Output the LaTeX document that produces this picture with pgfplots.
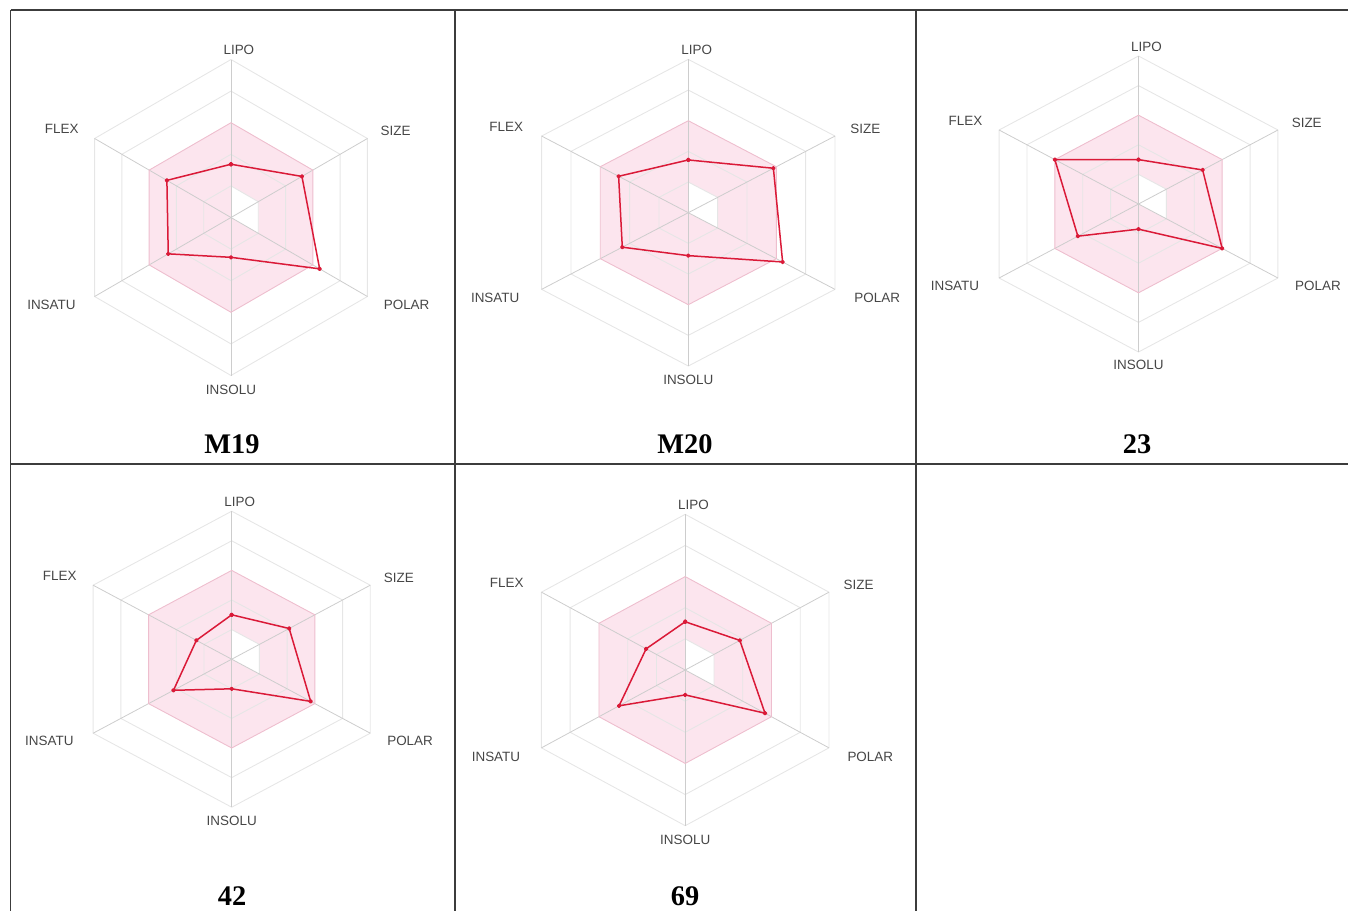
\documentclass[border=0pt]{standalone}
\usepackage{pgfplots}
\usepackage{pgfplotstable}
\usepackage{fontspec}
\pgfplotsset{compat=1.18}
\setmainfont{Liberation Serif}
\newfontfamily\labfont{Liberation Sans}
\definecolor{pinkfill}{RGB}{252,229,238}
\definecolor{pinkedge}{RGB}{238,190,206}
\definecolor{ringgray}{RGB}{230,230,230}
\definecolor{spokegray}{RGB}{205,205,205}
\definecolor{radarred}{RGB}{218,26,56}
\definecolor{labgray}{RGB}{70,70,70}
\definecolor{tablegray}{RGB}{60,60,60}

% radius (fraction of outer hexagon) for each axis, angle in degrees
\pgfplotstableread{
angle M19 M20 C23 C42 C69
90 0.337 0.344 0.30 0.30 0.31
30 0.52 0.58 0.46 0.415 0.38
-30 0.65 0.643 0.60 0.57 0.555
-90 0.252 0.28 0.17 0.20 0.16
-150 0.46 0.45 0.435 0.42 0.46
150 0.47 0.475 0.60 0.255 0.272
90 0.337 0.344 0.30 0.30 0.31
}\radardata

\pgfplotsset{
  radar/.style={
    scale only axis, axis lines=none, clip=false,
    xmin=-1.3,xmax=1.3,ymin=-1.3,ymax=1.3,
    anchor=origin,
  },
}
\tikzset{lab/.style={font=\labfont\fontsize{13.5}{15}\selectfont, text=labgray, inner sep=0pt}}

% #1 cx, #2 cy, #3 width, #4 height, #5 column, #6 title, #7 title x, #8 title baseline y
\newcommand{\radar}[8]{%
\begin{axis}[radar, at={(#1bp,-#2bp)}, width=#3bp, height=#4bp]
 \addplot[draw=none, fill=pinkfill, data cs=polar] coordinates {(90,0.6) (30,0.6) (-30,0.6) (-90,0.6) (-150,0.6) (150,0.6) (90,0.6)};
 \addplot[draw=none, fill=white, data cs=polar] coordinates {(90,0.2) (30,0.2) (-30,0.2) (0,0) (90,0.2)};
 \pgfplotsinvokeforeach{0.2,0.4,0.8,1.0}{
   \addplot[ringgray, line width=0.9bp, data cs=polar] coordinates {(90,##1) (30,##1) (-30,##1) (-90,##1) (-150,##1) (150,##1) (90,##1)};
 }
 \pgfplotsinvokeforeach{90,30,-30,-90,-150,150}{
   \addplot[spokegray, line width=0.8bp, data cs=polar] coordinates {(##1,0) (##1,1)};
 }
 \addplot[pinkedge, line width=0.9bp, data cs=polar] coordinates {(90,0.6) (30,0.6) (-30,0.6) (-90,0.6) (-150,0.6) (150,0.6) (90,0.6)};
 \addplot[radarred, line width=1.5bp, line join=round, mark=*, mark size=1.5bp,
   mark options={fill=radarred, draw=radarred}, data cs=polar] table[x=angle, y=#5] {\radardata};
 \node[lab] at (axis cs:0.05,1.06) {LIPO};
 \node[lab] at (axis cs:1.045,0.55) {SIZE};
 \node[lab] at (axis cs:1.115,-0.555) {POLAR};
 \node[lab] at (axis cs:0,-1.09) {INSOLU};
 \node[lab] at (axis cs:-1.14,-0.555) {INSATU};
 \node[lab] at (axis cs:-1.075,0.56) {FLEX};
\end{axis}
\node[font=\fontsize{28.5}{30}\selectfont\bfseries, anchor=base, inner sep=0pt] at (#7bp,-#8bp) {#6};
}

\begin{document}
\begin{tikzpicture}
\path[use as bounding box] (0,0) rectangle (1348bp,-911bp);
\begin{scope}
\clip (0,0) rectangle (1348bp,-911bp);
\draw[tablegray, line width=1.6bp] (10.5bp,-10bp) -- (1360bp,-10bp);
\draw[tablegray, line width=1.6bp] (10.5bp,-464bp) -- (1360bp,-464bp);
\draw[tablegray, line width=1.6bp] (10.5bp,-10bp) -- (10.5bp,-920bp);
\draw[tablegray, line width=1.6bp] (455bp,-10bp) -- (455bp,-920bp);
\draw[tablegray, line width=1.6bp] (916bp,-10bp) -- (916bp,-920bp);
\end{scope}
\radar{231}{217.5}{409.5}{410.8}{M19}{M19}{232}{453.5}
\radar{688.3}{212.7}{440.4}{398.6}{M20}{M20}{685}{453.5}
\radar{1138.5}{204}{418.6}{384.8}{C23}{23}{1137}{453.5}
\radar{231.7}{659.2}{416}{384.8}{C42}{42}{232}{905.5}
\radar{685.2}{670}{431.6}{404.8}{C69}{69}{685}{905.5}
\end{tikzpicture}
\end{document}
